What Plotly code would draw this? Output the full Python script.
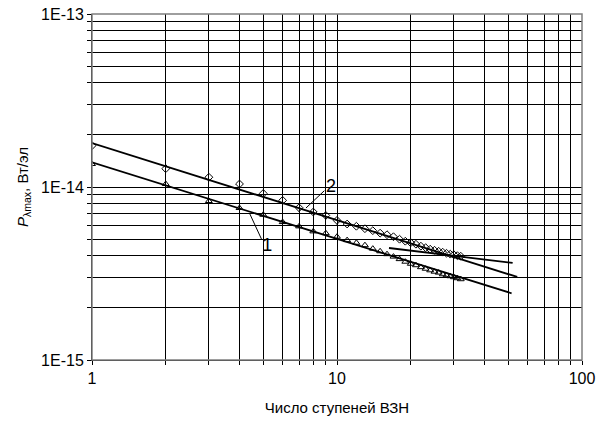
import plotly.graph_objects as go

# Number of ВЗН stages
stages = list(range(1, 33))

# Curve 2 (diamonds), W per element
p_curve2 = [1.733e-14, 1.276e-14, 1.139e-14, 1.041e-14, 9.18e-15, 8.37e-15, 7.59e-15, 7.17e-15,
            6.85e-15, 6.41e-15, 6.11e-15, 5.93e-15, 5.74e-15, 5.59e-15, 5.41e-15, 5.30e-15,
            5.16e-15, 4.99e-15, 4.86e-15, 4.76e-15, 4.67e-15, 4.55e-15, 4.46e-15, 4.37e-15,
            4.31e-15, 4.25e-15, 4.20e-15, 4.14e-15, 4.09e-15, 4.06e-15, 4.01e-15, 3.98e-15]

# Curve 1 (triangles), W per element
p_curve1 = [1.358e-14, 1.041e-14, 8.30e-15, 7.56e-15, 6.91e-15, 6.27e-15, 5.92e-15, 5.54e-15,
            5.41e-15, 5.16e-15, 4.93e-15, 4.76e-15, 4.61e-15, 4.40e-15, 4.25e-15, 4.09e-15,
            3.96e-15, 3.83e-15, 3.70e-15, 3.60e-15, 3.53e-15, 3.44e-15, 3.37e-15, 3.30e-15,
            3.24e-15, 3.20e-15, 3.13e-15, 3.09e-15, 3.05e-15, 3.01e-15, 2.97e-15, 2.93e-15]

# Power-law trend lines (end points)
fit2_x = [1, 54.4]
fit2_y = [1.795e-14, 3.02e-15]
fit1_x = [1, 51.6]
fit1_y = [1.387e-14, 2.43e-15]
tail_x = [16.3, 52.1]
tail_y = [4.44e-15, 3.64e-15]

# Curve labels and their leader lines
label_text = ["2", "1"]
label_x = [9.45, 5.19]
label_y = [1.0e-14, 4.55e-15]
leader2_x = [7.47, 8.88]
leader2_y = [7.56e-15, 9.52e-15]
leader1_x = [4.41, 4.93]
leader1_y = [6.98e-15, 4.96e-15]

# Axis ticks
x_ticks = [1, 2, 3, 4, 5, 6, 7, 8, 9, 10, 20, 30, 40, 50, 60, 70, 80, 90, 100]
x_labels = ["1"] + [" "] * 8 + ["10"] + [" "] * 8 + ["100"]
y_ticks = [m * 10.0 ** e for e in (-15, -14) for m in range(1, 10)] + [1e-13]
y_labels = ["1E-15"] + [" "] * 8 + ["1E-14"] + [" "] * 8 + ["1E-13"]

FONT = "Arial, Liberation Sans, sans-serif"
BLACK = "#000000"

fig = go.Figure()

line_style = dict(color=BLACK, width=1.8)
fig.add_trace(go.Scatter(x=fit2_x, y=fit2_y, mode="lines", line=line_style, hoverinfo="skip"))
fig.add_trace(go.Scatter(x=fit1_x, y=fit1_y, mode="lines", line=line_style, hoverinfo="skip"))
fig.add_trace(go.Scatter(x=tail_x, y=tail_y, mode="lines", line=line_style, hoverinfo="skip"))

fig.add_trace(go.Scatter(
    x=stages, y=p_curve2, mode="markers",
    marker=dict(symbol="diamond-open", size=6, color=BLACK, line=dict(width=1, color=BLACK)),
))
fig.add_trace(go.Scatter(
    x=stages, y=p_curve1, mode="markers",
    marker=dict(symbol="triangle-up-open", size=6, color=BLACK, line=dict(width=1, color=BLACK)),
))

leader_style = dict(color=BLACK, width=1)
fig.add_trace(go.Scatter(x=leader2_x, y=leader2_y, mode="lines", line=leader_style, hoverinfo="skip"))
fig.add_trace(go.Scatter(x=leader1_x, y=leader1_y, mode="lines", line=leader_style, hoverinfo="skip"))

fig.add_trace(go.Scatter(
    x=label_x, y=label_y, mode="text", text=label_text,
    textfont=dict(family=FONT, size=18, color=BLACK), textposition="middle center",
    hoverinfo="skip",
))

axis_common = dict(
    showgrid=True, gridcolor=BLACK, gridwidth=1,
    showline=True, linecolor=BLACK, linewidth=1,
    ticks="outside", ticklen=4, tickcolor=BLACK, tickangle=0,
    tickfont=dict(family=FONT, size=16, color=BLACK),
    zeroline=False, automargin=False,
)

fig.update_xaxes(
    type="log", range=[0, 2], tickmode="array", tickvals=x_ticks, ticktext=x_labels,
    title=dict(text="Число ступеней ВЗН", font=dict(family=FONT, size=15, color=BLACK), standoff=16),
    **axis_common,
)
fig.update_yaxes(
    type="log", range=[-15, -13], tickmode="array", tickvals=y_ticks, ticktext=y_labels,
    title=dict(text="<i>P</i><sub>λmax</sub>, Вт/эл", font=dict(family=FONT, size=15, color=BLACK), standoff=8),
    **axis_common,
)

# Plot frame
fig.add_shape(type="rect", xref="paper", yref="paper", x0=0, y0=0, x1=1, y1=1,
              line=dict(color="#7f7f7f", width=1.5))

fig.update_layout(
    width=613, height=425,
    margin=dict(l=92, r=31, t=14, b=65),
    paper_bgcolor="white", plot_bgcolor="white",
    showlegend=False,
    font=dict(family=FONT, color=BLACK),
)

fig.write_html("out.html")
